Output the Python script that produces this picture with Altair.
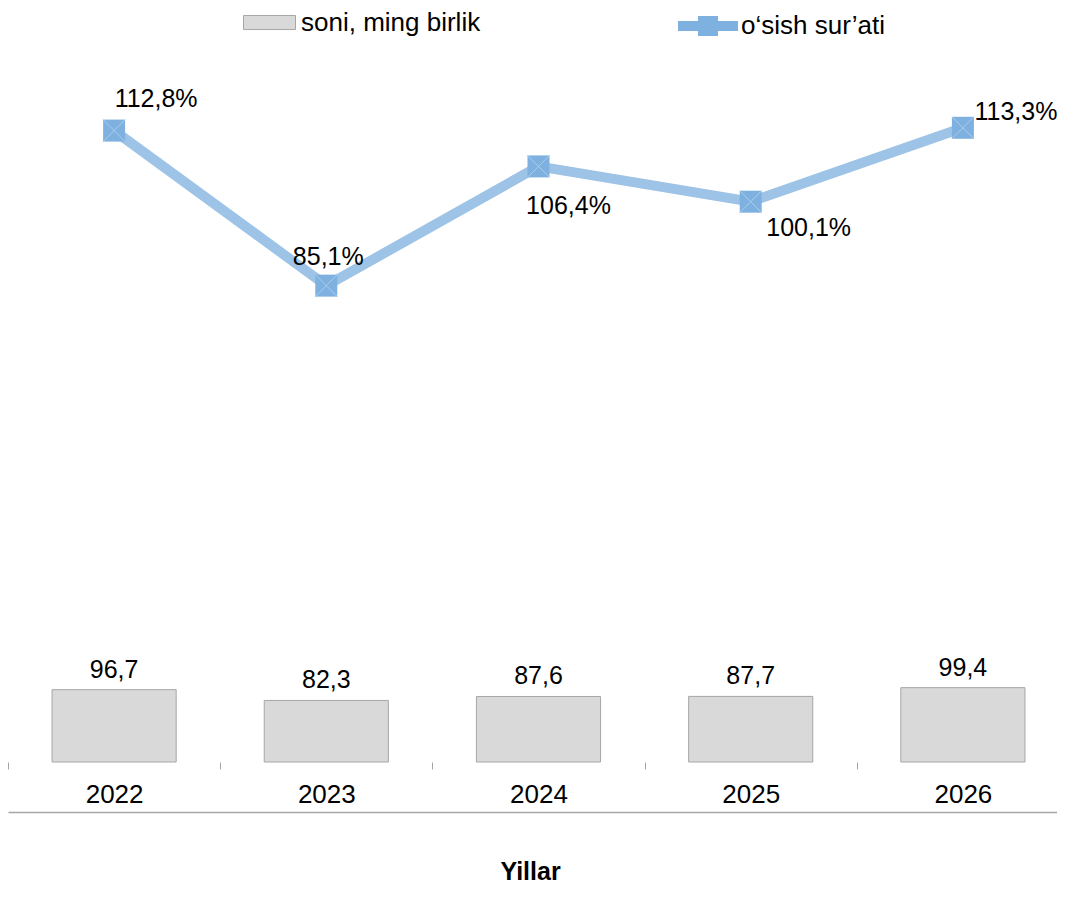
import altair as alt
import pandas as pd

# ---- data ----
years = ["2022", "2023", "2024", "2025", "2026"]
soni = [96.7, 82.3, 87.6, 87.7, 99.4]          # soni, ming birlik
osish = [112.8, 85.1, 106.4, 100.1, 113.3]     # o‘sish sur’ati, %

BAR_NAME = "soni, ming birlik"
LINE_NAME = "o‘sish sur’ati"

df = pd.DataFrame({"yil": years, "soni": soni, "osish": osish})

FONT = "Liberation Sans"
VIEW_W, H = 1049, 754          # visible part of the plot
X_MAX = 1061                   # plot runs past the right edge, as in the reference
BAR_DOMAIN = [0, 1008]
LINE_DOMAIN = [0, 134.7]

bar_x_scale = alt.Scale(domain=years, rangeMin=0, rangeMax=X_MAX,
                        paddingInner=0.415, paddingOuter=0.2075)
cat_x_scale = alt.Scale(domain=years, rangeMin=0, rangeMax=X_MAX,
                        paddingInner=0, paddingOuter=0)

base = alt.Chart(df).transform_calculate(
    soni_lbl="replace(format(datum.soni, '.1f'), '.', ',')",
    osish_lbl="replace(format(datum.osish, '.1f'), '.', ',') + '%'",
    bar_series=f"'{BAR_NAME}'",
    line_series=f"'{LINE_NAME}'",
)

x_none = alt.X("yil:N", scale=bar_x_scale, sort=years, axis=None)

bars = base.mark_bar(fill="#d9d9d9", stroke="#a6a6a6", strokeWidth=1).encode(
    x=x_none,
    y=alt.Y("soni:Q", scale=alt.Scale(domain=BAR_DOMAIN), axis=None),
    fill=alt.Fill("bar_series:N",
                  scale=alt.Scale(domain=[BAR_NAME], range=["#d9d9d9"]),
                  legend=alt.Legend(title=None, orient="none", legendX=235, legendY=-12,
                                    symbolType="M-1,-0.27H1V0.27H-1Z", symbolSize=2704,
                                    symbolStrokeColor="#a6a6a6", symbolStrokeWidth=1,
                                    labelFont=FONT, labelFontSize=26, labelColor="#000000",
                                    labelOffset=5, labelLimit=0)),
)

# bar value labels; this layer also carries the category axis (ticks between years)
bar_text = base.mark_text(font=FONT, fontSize=25, color="#000000",
                          baseline="bottom", dy=-7).encode(
    x=alt.X("yil:N", scale=cat_x_scale, sort=years,
            axis=alt.Axis(orient="bottom", title=None, domain=False, grid=False,
                          tickBand="extent", tickSize=7, tickColor="#a6a6a6",
                          tickWidth=1, labelAngle=0, labelFont=FONT,
                          labelFontSize=26, labelColor="#000000",
                          labelPadding=12)),
    y=alt.Y("soni:Q", scale=alt.Scale(domain=BAR_DOMAIN), axis=None),
    text="soni_lbl:N",
)

line = base.mark_line(color="#9dc3e6", strokeWidth=10).encode(
    x=alt.X("yil:N", scale=bar_x_scale, sort=years,
            axis=alt.Axis(orient="bottom", offset=50, domain=True, domainColor="#a6a6a6",
                          domainWidth=1.5, ticks=False, labels=False, grid=False,
                          title="Yillar", titleFont=FONT, titleFontSize=25,
                          titleFontWeight="bold", titleColor="#000000",
                          titleX=522, titlePadding=47)),
    y=alt.Y("osish:Q", scale=alt.Scale(domain=LINE_DOMAIN), axis=None),
)

points = base.mark_point(filled=True, shape="square", size=484, opacity=1).encode(
    x=x_none,
    y=alt.Y("osish:Q", scale=alt.Scale(domain=LINE_DOMAIN), axis=None),
    fill=alt.Fill("line_series:N",
                  scale=alt.Scale(domain=[LINE_NAME], range=["#7eb1e0"]),
                  legend=alt.Legend(title=None, orient="none", legendX=670, legendY=-12,
                                    symbolType="M-1,-0.167H-0.333V-0.333H0.333V-0.167H1V0.167H0.333V0.333H-0.333V0.167H-1Z",
                                    symbolSize=3600, symbolStrokeWidth=0,
                                    labelFont=FONT, labelFontSize=26, labelColor="#000000",
                                    labelOffset=3, labelLimit=0)),
)

crosses = base.mark_point(filled=False, shape="M-1,-1L1,1M-1,1L1,-1", size=484,
                          stroke="#acccec", strokeWidth=1, opacity=1).encode(
    x=x_none,
    y=alt.Y("osish:Q", scale=alt.Scale(domain=LINE_DOMAIN), axis=None),
)

# label placement per point (dx, dy) as in the reference
label_offsets = {
    "2022": (42, -32),
    "2023": (2, -29),
    "2024": (30, 40),
    "2025": (58, 26),
    "2026": (53, -16),
}
line_texts = []
for yr, (dx, dy) in label_offsets.items():
    line_texts.append(
        base.transform_filter(alt.datum.yil == yr).mark_text(
            font=FONT, fontSize=25, color="#000000", baseline="middle",
            align="center", dx=dx, dy=dy).encode(
            x=x_none,
            y=alt.Y("osish:Q", scale=alt.Scale(domain=LINE_DOMAIN), axis=None),
            text="osish_lbl:N",
        )
    )

chart = alt.layer(bars, bar_text, line, points, crosses, *line_texts).resolve_scale(
    x="independent", y="independent", fill="independent"
).resolve_axis(x="independent").resolve_legend(fill="independent").properties(
    width=VIEW_W, height=H,
    autosize=alt.AutoSizeParams(type="none"),
    padding={"left": 0, "top": 0, "right": 0, "bottom": 124},
    background="#ffffff",
).configure_view(stroke=None)

chart.save("out.html", embed_options={"renderer": "svg", "actions": False})
